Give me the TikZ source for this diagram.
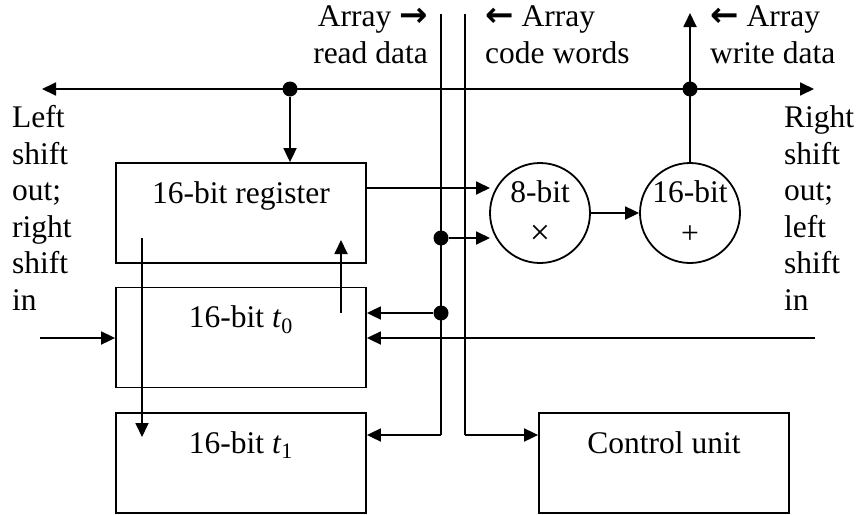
\documentclass[tikz,border=0pt]{standalone}
\usepackage{fontspec}
\setmainfont{Liberation Serif}
\newfontfamily\arrowfont{DejaVu Sans}
\usetikzlibrary{arrows.meta}
\newcommand\rarr{{\arrowfont\bfseries\fontsize{34}{36.5}\selectfont →}}
\newcommand\larr{{\arrowfont\bfseries\fontsize{34}{36.5}\selectfont ←}}
\begin{document}
\begin{tikzpicture}[x=1pt,y=-1pt,
  font=\fontsize{31.5}{36.5}\selectfont,
  wire/.style={line width=1.8pt},
  arr/.style={wire,-{Triangle[length=14pt,width=13pt]}},
  darr/.style={wire,{Triangle[length=14pt,width=13pt]}-{Triangle[length=14pt,width=13pt]}},
  blk/.style={draw,line width=1.8pt,minimum width=250pt,minimum height=100pt,inner sep=0pt},
  circ/.style={draw,circle,line width=1.8pt,minimum size=100pt,inner sep=0pt},
  dot/.style={circle,fill,inner sep=0pt,minimum size=15pt},
  txt/.style={inner sep=0pt}]
\useasboundingbox (0,0) rectangle (856,514);

% blocks
\node[blk] (reg)  at (241,213) {};
\node[blk] (tz)   at (241,337.5) {};
\node[blk] (tone) at (241,463) {};
\node[blk] (ctrl) at (664,463) {};
\node[txt,anchor=base] (regT)  at (241,203) {16-bit register};
\node[txt,anchor=base] (tzT)   at (241,327) {16-bit \textit{t}\textsubscript{0}};
\node[txt,anchor=base] (toneT) at (241,453) {16-bit \textit{t}\textsubscript{1}};
\node[txt,anchor=base] (ctrlT) at (664,453) {Control unit};

% multiplier and adder
\node[circ] (mul) at (540,213) {};
\node[circ] (add) at (690,213) {};
\node[txt,anchor=base] (mulT) at (540,202) {8-bit};
\node[txt] (mulS) at (540,235) {\fontsize{36}{36}\selectfont ×};
\node[txt,anchor=base] (addT) at (690,202) {16-bit};
\node[txt] (addS) at (690,235) {+};

% bus and array lines
\coordinate (busL) at (42,89);
\coordinate (busR) at (814,89);
\coordinate (rtop) at (441,14);
\coordinate (rbot) at (441,435);
\coordinate (ctop) at (465,14);
\coordinate (cbot) at (465,435);
\coordinate (wtop) at (690,13);
\draw[darr] (busL) -- (busR);
\draw[wire] (rtop) -- (rbot);
\draw[arr] (rbot) -- (rbot -| tone.east);
\draw[wire] (ctop) -- (cbot);
\draw[arr] (cbot) -- (cbot -| ctrl.west);
\draw[arr] (add.north) -- (wtop);

% junctions
\node[dot] (dbus)  at (290,89) {};
\node[dot] (dadd)  at (690,89) {};
\node[dot] (dmul)  at (441,238) {};
\node[dot] (dtz)   at (441,313) {};

\draw[arr] (dbus) -- (dbus |- reg.north);
\coordinate (mulin) at (490,188);
\draw[arr] (mulin -| reg.east) -- (mulin);
\coordinate (mulinb) at (490,238);
\draw[arr] (dmul) -- (mulinb);
\draw[arr] (mul.east) -- (add.west);
\draw[arr] (dtz) -- (dtz -| tz.east);

% shift inputs
\coordinate (rin) at (815,338);
\coordinate (lin) at (40,338);
\draw[arr] (rin) -- (rin -| tz.east);
\draw[arr] (lin) -- (lin -| tz.west);

% register / t0 / t1 transfers
\coordinate (rdn) at (142,238);
\coordinate (rdnE) at (142,437);
\draw[arr] (rdn) -- (rdnE);
\coordinate (tup) at (341,313);
\coordinate (tupE) at (341,240);
\draw[arr] (tup) -- (tupE);

% labels (base anchor sits on the last line)
\node[txt,anchor=base west,align=left] (lshift) at (12,310)
  {Left\\shift\\out;\\right\\shift\\in};
\node[txt,anchor=base west,align=left] (rshift) at (784,310)
  {Right\\shift\\out;\\left\\shift\\in};
\node[txt,anchor=base east,align=right] (rdlab) at (428,63)
  {Array \rarr\\read data};
\node[txt,anchor=base west,align=left] (cwlab) at (485,63)
  {\larr{} Array\\code words};
\node[txt,anchor=base west,align=left] (wdlab) at (710,63)
  {\larr{} Array\\write data};
\end{tikzpicture}
\end{document}
